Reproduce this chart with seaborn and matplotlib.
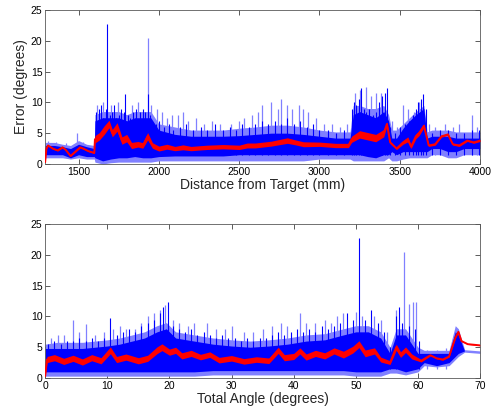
"""Error vs distance / total angle, MATLAB-style two-panel figure."""

import matplotlib
matplotlib.use("Agg")
import matplotlib.pyplot as plt
import numpy as np
import pandas as pd
import seaborn as sns

# ---------------- top panel: distance from target (mm) ----------------
top_x = [1292, 1350, 1400, 1450, 1500, 1550, 1598, 1602, 1650, 1700, 1750, 1800,
         1850, 1900, 1950, 2000, 2100, 2200, 2300, 2400, 2500, 2600, 2700, 2800,
         2900, 3000, 3100, 3190, 3210, 3250, 3300, 3350, 3400, 3430, 3450, 3480,
         3520, 3560, 3600, 3650, 3670, 3700, 3750, 3800, 3850, 3900, 3950, 4000]
top_light_hi = [3.5, 3.5, 3.2, 3.0, 3.8, 3.2, 3.0, 8.0, 8.5, 8.5, 8.5, 8.0,
                8.5, 8.5, 8.5, 6.5, 6.0, 5.5, 5.5, 5.5, 5.8, 6.0, 6.3, 6.3,
                6.0, 5.5, 5.2, 5.2, 9.5, 9.5, 9.0, 9.0, 9.5, 8.0, 5.5, 5.5,
                6.5, 7.5, 8.5, 9.5, 5.2, 5.5, 5.5, 5.5, 5.2, 5.2, 5.2, 5.2]
top_dark_hi = [3.0, 3.0, 2.8, 2.5, 3.2, 2.8, 2.5, 7.0, 7.5, 7.5, 7.5, 7.0,
               7.5, 7.5, 7.5, 5.5, 4.8, 4.5, 4.5, 4.5, 4.6, 4.8, 5.0, 5.0,
               4.8, 4.5, 4.2, 4.2, 8.0, 8.5, 8.0, 7.5, 8.5, 7.0, 4.2, 4.2,
               5.8, 7.0, 8.0, 9.0, 4.2, 4.5, 4.5, 4.5, 4.2, 4.2, 4.2, 4.2]
top_dark_lo = [1.5, 1.5, 1.5, 1.0, 1.5, 1.2, 1.2, 1.0, 0.5, 0.8, 1.0, 1.0,
               1.2, 1.0, 1.0, 1.2, 1.3, 1.3, 1.3, 1.3, 1.5, 1.5, 1.5, 1.5,
               1.5, 1.5, 1.5, 1.5, 1.5, 1.5, 1.2, 1.0, 1.5, 1.5, 2.0, 1.5,
               2.0, 2.0, 2.0, 2.0, 2.0, 2.5, 2.5, 2.0, 2.0, 2.5, 2.5, 2.5]
top_light_lo = [1.0, 1.0, 1.0, 0.8, 1.0, 0.8, 0.8, 0.3, 0.0, 0.2, 0.3, 0.3,
                0.3, 0.3, 0.3, 0.5, 0.5, 0.5, 0.5, 0.5, 0.5, 0.5, 0.5, 0.5,
                0.5, 0.8, 0.8, 0.8, 0.5, 0.5, 0.5, 0.5, 0.5, 1.0, 0.5, 0.5,
                0.8, 1.0, 1.0, 1.0, 1.0, 1.5, 1.5, 1.0, 1.0, 1.5, 1.5, 1.5]

top_red_x = [1292, 1300, 1310, 1340, 1370, 1400, 1420, 1450, 1480, 1510, 1530, 1560,
             1598, 1602, 1630, 1660, 1690, 1710, 1740, 1770, 1800, 1830, 1870, 1900,
             1930, 1960, 2000, 2050, 2100, 2150, 2200, 2300, 2400, 2500, 2550, 2600,
             2700, 2800, 2850, 2900, 3000, 3100, 3180, 3200, 3250, 3300, 3350, 3400,
             3420, 3440, 3480, 3520, 3550, 3570, 3600, 3620, 3650, 3680, 3720, 3760,
             3800, 3830, 3870, 3920, 3960, 4000]
top_red_y = [0.3, 2.5, 3.0, 2.5, 2.2, 2.7, 2.3, 1.3, 2.0, 2.7, 2.5, 2.1,
             1.8, 4.0, 4.5, 5.5, 6.5, 5.0, 6.0, 3.8, 4.2, 3.0, 3.2, 3.0,
             4.5, 3.0, 2.5, 2.8, 2.5, 2.7, 2.5, 2.7, 2.8, 2.7, 3.0, 3.0,
             3.3, 3.8, 3.5, 3.2, 3.2, 3.0, 3.0, 4.0, 4.8, 4.5, 4.2, 5.0,
             6.5, 3.5, 2.5, 3.5, 4.0, 2.8, 4.5, 5.0, 6.2, 3.0, 3.2, 4.5,
             4.8, 3.2, 3.0, 3.8, 3.5, 3.8]
top_red_spread = [0.05, 0.1, 0.1, 0.1, 0.1, 0.1, 0.1, 0.1, 0.1, 0.1, 0.1, 0.1,
                  0.1, 0.6, 0.6, 0.7, 0.6, 0.6, 0.7, 0.6, 0.6, 0.5, 0.45, 0.45,
                  0.6, 0.45, 0.4, 0.4, 0.35, 0.4, 0.35, 0.35, 0.35, 0.35, 0.4, 0.4,
                  0.4, 0.45, 0.4, 0.4, 0.35, 0.35, 0.35, 0.5, 0.6, 0.6, 0.6, 0.6,
                  0.3, 0.2, 0.15, 0.3, 0.4, 0.3, 0.4, 0.4, 0.3, 0.15, 0.15, 0.15,
                  0.15, 0.15, 0.15, 0.15, 0.15, 0.15]

top_spike_dark_x = [1610, 1625, 1640, 1655, 1670, 1680, 1695, 1710, 1720, 1735,
                    1750, 1765, 1780, 1790, 1805, 1820, 1840, 1860, 1880, 1900,
                    1915, 1930, 1945, 1960, 1980, 2000, 2030, 2060, 2090, 2130,
                    2170, 2210, 2260, 2300, 2350, 2400, 2440, 2480, 2520, 2560,
                    2600, 2640, 2680, 2720, 2760, 2800, 2840, 2880, 2920, 2960,
                    3000, 3050, 3100, 3150, 3200, 3215, 3230, 3245, 3260, 3275,
                    3290, 3310, 3330, 3350, 3370, 3390, 3405, 3420, 3440, 3470,
                    3500, 3530, 3560, 3580, 3600, 3615, 3630, 3645, 3660, 3700,
                    3750, 3800, 3850, 3900, 3950, 3990]
top_spike_dark_y = [8.5, 9.0, 9.5, 7.5, 9.0, 22.7, 8.0, 8.5, 9.5, 7.5,
                    8.0, 9.0, 8.5, 11.4, 8.0, 7.5, 8.5, 9.0, 8.5, 9.0,
                    8.5, 11.3, 8.0, 7.0, 6.5, 7.0, 6.0, 6.5, 5.5, 6.0,
                    6.5, 5.5, 6.0, 5.5, 6.5, 5.5, 6.0, 5.5, 6.5, 6.0,
                    6.5, 7.0, 6.5, 7.0, 6.5, 7.5, 6.5, 7.0, 6.0, 6.5,
                    5.5, 5.5, 5.0, 5.5, 9.0, 10.0, 9.5, 10.5, 12.3, 9.0,
                    8.5, 9.0, 8.0, 8.5, 10.0, 11.0, 11.5, 12.4, 6.0, 5.0,
                    6.0, 6.5, 7.0, 8.0, 9.0, 10.0, 10.5, 11.3, 9.0, 5.0,
                    5.5, 5.5, 5.0, 5.0, 5.5, 5.5]
top_spike_light_x = [1310, 1360, 1420, 1490, 1530, 1615, 1650, 1700, 1745, 1830,
                     1870, 1930, 1950, 1990, 2020, 2050, 2080, 2120, 2150, 2180,
                     2230, 2280, 2330, 2380, 2450, 2500, 2530, 2580, 2620, 2640,
                     2700, 2740, 2760, 2800, 2830, 2870, 2900, 2930, 2980, 3030,
                     3080, 3130, 3170, 3220, 3250, 3290, 3320, 3350, 3380, 3450,
                     3480, 3520, 3550, 3590, 3620, 3680, 3720, 3780, 3830, 3870,
                     3950, 3980]
top_spike_light_y = [3.7, 3.5, 3.4, 5.0, 3.5, 9.5, 10.0, 9.5, 10.0, 9.5,
                     10.0, 20.5, 9.5, 9.0, 8.5, 7.5, 8.0, 8.0, 8.5, 7.0,
                     7.5, 6.5, 7.0, 6.5, 6.5, 7.0, 7.5, 8.0, 8.5, 9.5,
                     10.0, 9.0, 10.5, 9.5, 9.0, 9.5, 9.0, 8.5, 7.5, 6.5,
                     6.5, 6.0, 6.5, 11.5, 12.0, 12.5, 11.0, 11.5, 11.5, 7.0,
                     6.0, 9.5, 9.0, 8.5, 10.0, 6.5, 6.0, 6.5, 6.0, 6.5,
                     8.0, 6.0]

# ---------------- bottom panel: total angle (degrees) ----------------
bot_x = [0, 2, 4, 6, 8, 10, 12, 14, 16, 18, 19.5, 21, 24, 27, 30, 33, 36, 39,
         42, 45, 48, 50, 52, 54, 55.5, 56.5, 58, 60, 61, 63, 65, 66, 66.5, 67.5, 70]
bot_light_hi = [5.5, 5.8, 5.8, 5.8, 6.0, 6.2, 6.5, 7.0, 7.5, 8.5, 9.0, 7.5,
                7.0, 6.5, 6.2, 6.0, 6.2, 6.5, 7.0, 7.2, 8.0, 8.5, 8.5, 7.5,
                5.0, 8.0, 8.0, 5.0, 4.5, 4.5, 4.5, 8.5, 8.0, 4.6, 4.4]
bot_dark_hi = [4.8, 4.8, 4.8, 4.8, 5.0, 5.2, 5.5, 6.0, 6.5, 7.5, 8.0, 6.5,
               6.0, 5.5, 5.2, 5.0, 5.2, 5.5, 6.0, 6.2, 7.0, 7.5, 7.5, 6.5,
               4.0, 7.0, 7.0, 4.0, 4.0, 4.0, 4.0, 7.5, 7.0, 4.4, 4.2]
bot_dark_lo = [1.0, 1.0, 1.0, 1.0, 1.0, 1.0, 1.0, 1.0, 1.0, 1.0, 1.0, 1.0,
               1.0, 1.2, 1.2, 1.2, 1.2, 1.2, 1.2, 1.2, 1.2, 1.0, 1.0, 1.0,
               1.5, 1.5, 1.0, 1.5, 2.5, 2.0, 2.5, 3.5, 4.0, 4.4, 4.2]
bot_light_lo = [0.3, 0.3, 0.3, 0.3, 0.3, 0.3, 0.3, 0.3, 0.3, 0.3, 0.3, 0.3,
                0.3, 0.5, 0.5, 0.5, 0.5, 0.5, 0.5, 0.5, 0.5, 0.3, 0.3, 0.3,
                0.8, 0.8, 0.5, 1.0, 2.0, 1.8, 2.0, 3.0, 3.5, 4.2, 4.0]

bot_red_x = [0, 0.3, 1.5, 3, 4.5, 6, 7.5, 9, 10.5, 11.5, 13, 15, 16.5, 18, 18.8,
             20, 21, 22, 23.5, 25, 26.5, 28, 30, 32, 34, 36, 37.5, 38.5, 40,
             41, 42, 43.5, 45, 46.5, 48, 49.5, 50.5, 51.5, 53, 54, 55.5, 56.5,
             57.2, 58, 59, 60.5, 62, 63, 64, 65, 66, 66.5, 67, 68, 70]
bot_red_y = [0.3, 3.0, 3.3, 2.7, 3.2, 2.6, 3.3, 2.8, 4.5, 3.0, 3.4, 2.8, 3.2,
             4.5, 5.0, 4.2, 4.5, 3.6, 4.0, 3.4, 3.8, 2.9, 3.2, 2.7, 3.0, 2.8,
             4.5, 3.3, 3.5, 4.4, 3.4, 4.0, 3.6, 4.4, 3.8, 4.6, 5.5, 4.0, 4.4,
             3.0, 2.5, 5.0, 3.8, 4.6, 3.5, 2.8, 3.7, 3.2, 3.0, 3.5, 6.5, 7.5,
             6.0, 5.5, 5.3]
bot_red_spread = [0.05, 0.5, 0.5, 0.5, 0.5, 0.5, 0.5, 0.5, 0.55, 0.5, 0.5, 0.5, 0.5,
                  0.55, 0.55, 0.5, 0.5, 0.5, 0.5, 0.45, 0.45, 0.45, 0.45, 0.45, 0.45,
                  0.45, 0.5, 0.5, 0.5, 0.5, 0.5, 0.5, 0.5, 0.5, 0.55, 0.55, 0.55,
                  0.55, 0.5, 0.4, 0.3, 0.5, 0.45, 0.45, 0.4, 0.2, 0.1, 0.1, 0.1,
                  0.1, 0.1, 0.1, 0.05, 0.05, 0.05]

bot_spike_dark_x = [0.5, 1.5, 2.5, 3.5, 4.5, 5.5, 6.5, 7.5, 8.5, 9.5,
                    10.5, 11.5, 12.5, 13.5, 14.5, 15.5, 16.5, 17.5, 18.5, 19.0,
                    19.8, 20.5, 21.5, 22.5, 23.5, 24.5, 25.5, 26.5, 27.5, 28.5,
                    29.5, 30.5, 31.5, 32.5, 33.5, 34.5, 35.5, 36.5, 37.5, 38.5,
                    39.5, 40.5, 41.5, 42.5, 43.5, 44.5, 45.5, 46.5, 47.5, 48.5,
                    49.5, 50.5, 51.5, 52.5, 53.5, 54.5, 55.5, 56.5, 57.0, 57.5,
                    58.5, 59.5, 60.2]
bot_spike_dark_y = [5.5, 6.0, 5.5, 6.0, 6.0, 6.5, 6.0, 6.5, 6.0, 6.5,
                    9.8, 7.0, 7.5, 8.0, 7.5, 8.5, 9.0, 9.5, 10.5, 11.5,
                    12.4, 8.5, 8.0, 7.5, 8.0, 7.0, 7.5, 7.0, 6.5, 7.0,
                    6.5, 6.5, 6.0, 6.5, 6.0, 6.5, 6.5, 7.0, 7.5, 7.0,
                    7.5, 8.0, 7.5, 8.0, 7.5, 8.5, 8.0, 8.5, 9.0, 10.5,
                    9.5, 22.7, 9.5, 11.0, 9.0, 7.5, 5.0, 10.0, 11.5, 9.0,
                    8.5, 8.0, 6.0]
bot_spike_light_x = [1.0, 2.0, 3.0, 4.5, 5.5, 6.5, 8.0, 9.5, 11.0, 12.0,
                     13.0, 14.5, 15.5, 16.5, 17.5, 18.5, 19.3, 20.5, 21.5, 23.0,
                     24.0, 26.0, 27.5, 29.0, 30.0, 32.0, 33.5, 35.0, 36.5, 38.0,
                     39.0, 41.0, 42.0, 43.5, 45.0, 46.0, 47.0, 48.0, 50.0, 51.0,
                     53.0, 54.0, 55.0, 56.5, 57.8, 58.5, 59.2, 59.7, 61.5, 63.0,
                     64.5]
bot_spike_light_y = [6.5, 7.0, 7.0, 9.5, 7.5, 8.8, 7.0, 7.5, 8.0, 8.5,
                     8.0, 8.0, 9.0, 10.0, 10.5, 11.0, 11.8, 9.5, 9.0, 8.5,
                     9.0, 9.0, 8.0, 8.0, 8.5, 7.5, 7.5, 8.0, 8.5, 9.0,
                     8.5, 10.5, 9.0, 9.0, 9.5, 9.0, 10.0, 10.5, 10.8, 10.0,
                     10.0, 9.5, 7.5, 11.0, 20.4, 12.0, 12.3, 12.3, 4.5, 4.5,
                     4.8]

DARK = "#0000ff"
LIGHT = "#8080ff"
RED = "#ff0000"


def draw_panel(ax, x, light_hi, dark_hi, dark_lo, light_lo, red_x, red_y, red_sp,
               sp_dark_x, sp_dark_y, sp_light_x, sp_light_y):
    ax.fill_between(x, light_lo, light_hi, color=LIGHT, lw=0, zorder=1)
    ax.vlines(sp_light_x, 1.5, sp_light_y, color=LIGHT, lw=0.9, zorder=1.5)
    ax.fill_between(x, dark_lo, dark_hi, color=DARK, lw=0, zorder=2)
    ax.vlines(sp_dark_x, 1.5, sp_dark_y, color=DARK, lw=0.8, zorder=2.5)
    ry = np.array(red_y)
    rs = np.array(red_sp)
    ax.fill_between(red_x, ry - rs, ry + rs, color=RED, lw=0, zorder=3)
    red_df = pd.DataFrame({"x": red_x, "y": red_y})
    sns.lineplot(data=red_df, x="x", y="y", ax=ax, color=RED, lw=1.4,
                 estimator=None, sort=False, zorder=3.5)


sns.set_style("ticks")
plt.rcParams["font.family"] = ["Liberation Sans", "DejaVu Sans"]

fig = plt.figure(figsize=(4.96, 4.12), dpi=100)
ax1 = fig.add_axes([0.091, 0.602, 0.877, 0.374])
ax2 = fig.add_axes([0.091, 0.0825, 0.877, 0.3735])

draw_panel(ax1, top_x, top_light_hi, top_dark_hi, top_dark_lo, top_light_lo,
           top_red_x, top_red_y, top_red_spread,
           top_spike_dark_x, top_spike_dark_y, top_spike_light_x, top_spike_light_y)
draw_panel(ax2, bot_x, bot_light_hi, bot_dark_hi, bot_dark_lo, bot_light_lo,
           bot_red_x, bot_red_y, bot_red_spread,
           bot_spike_dark_x, bot_spike_dark_y, bot_spike_light_x, bot_spike_light_y)

ax1.set_xlim(1292, 4000)
ax1.set_xticks([1500, 2000, 2500, 3000, 3500, 4000])
ax1.set_xlabel("Distance from Target (mm)", fontsize=10, labelpad=1)
ax1.set_ylabel("Error (degrees)", fontsize=10, labelpad=2)

ax2.set_xlim(0, 70)
ax2.set_xticks(range(0, 71, 10))
ax2.set_xlabel("Total Angle (degrees)", fontsize=10, labelpad=1)
ax2.set_ylabel("")

for ax in (ax1, ax2):
    ax.set_ylim(0, 25)
    ax.set_yticks(range(0, 26, 5))
    ax.tick_params(direction="in", length=3.5, width=0.6, labelsize=7.5,
                   top=True, right=True, colors="0.25", labelcolor="black", pad=2)
    for s in ax.spines.values():
        s.set_visible(True)
        s.set_linewidth(0.6)
        s.set_color("0.35")

fig.savefig("out.png", dpi=100)
